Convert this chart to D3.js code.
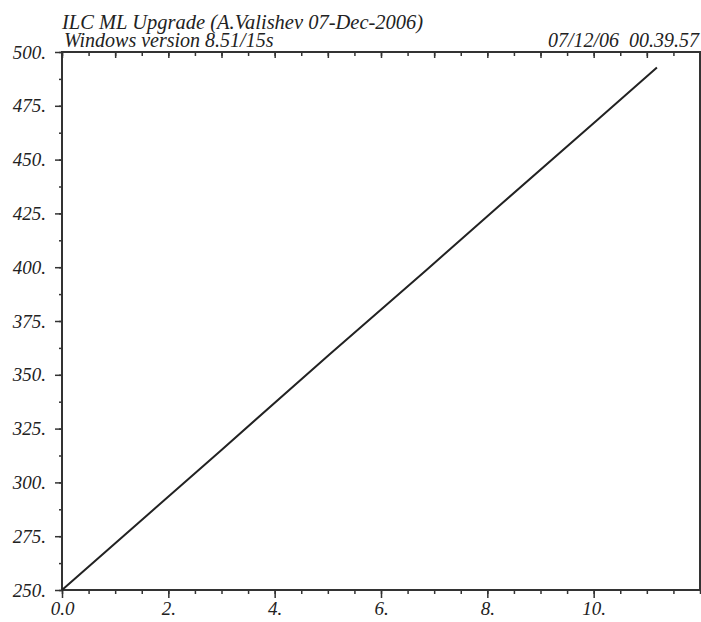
<!DOCTYPE html>
<html lang="en">
<head>
  <meta charset="utf-8">
  <title>ILC ML Upgrade</title>
  <script src="https://d3js.org/d3.v7.min.js"></script>
  <style>
    body { margin: 0; background: #fff; }
    text { font-family: "Liberation Serif", "DejaVu Serif", serif; font-style: italic; fill: #222; }
    .axis path.domain { display: none; }
    .axis line { stroke: #333; stroke-width: 1.5; }
  </style>
</head>
<body>
  <script>
    // data
    const lineX = [0, 1.65, 3.0, 5.03, 6.85, 8.23, 10.1, 11.19];
    const lineY = [250, 285.8, 315.1, 359.4, 398.6, 428.7, 469.1, 492.8];
    const xLabelTicks = [0, 2, 4, 6, 8, 10];
    const yLabelTicks = [250, 275, 300, 325, 350, 375, 400, 425, 450, 475, 500];
    const title1 = "ILC ML Upgrade (A.Valishev 07-Dec-2006)";
    const title2 = "Windows version 8.51/15s";
    const stamp = "07/12/06  00.39.57";

    const width = 701, height = 622;
    const margin = { top: 52, right: 0, bottom: 32, left: 62 };
    const innerWidth = width - margin.left - margin.right;
    const innerHeight = height - margin.top - margin.bottom;

    const svg = d3.select("body").append("svg")
      .attr("width", width).attr("height", height)
      .style("display", "block");
    const g = svg.append("g")
      .attr("transform", `translate(${margin.left},${margin.top})`);

    const x = d3.scaleLinear().domain([0, 12]).range([0, innerWidth - 1]);
    const y = d3.scaleLinear().domain([250, 500]).range([innerHeight, 0]);

    const halfSteps = d3.range(0, 12.01, 0.5);
    const ySteps = d3.range(250, 500.01, 12.5);

    // axis labels: italic times-like, same as the header
    function styleText(sel) {
      sel.attr("font-family", "Liberation Serif").attr("font-size", 19).attr("font-style", "italic");
      sel.selectAll("text")
        .style("font-family", "'Liberation Serif', serif")
        .style("font-style", "italic")
        .style("font-size", "19px")
        .attr("fill", "#222");
    }

    // minor ticks (bottom outside, top inside, left outside)
    g.append("g").attr("class", "axis")
      .attr("transform", `translate(0,${innerHeight})`)
      .call(d3.axisBottom(x).tickValues(halfSteps).tickSize(4).tickFormat(""));
    g.append("g").attr("class", "axis")
      .call(d3.axisBottom(x).tickValues(halfSteps).tickSize(4).tickFormat(""));
    g.append("g").attr("class", "axis")
      .call(d3.axisLeft(y).tickValues(ySteps).tickSize(3).tickFormat(""));

    // major labelled ticks
    g.append("g").attr("class", "axis")
      .attr("transform", `translate(0,${innerHeight})`)
      .call(d3.axisBottom(x).tickValues(xLabelTicks).tickSize(8).tickPadding(4)
        .tickFormat(d => d === 0 ? "0.0" : d + "."))
      .call(styleText);
    g.append("g").attr("class", "axis")
      .call(d3.axisBottom(x).tickValues(d3.range(0, 12.01, 1)).tickSize(6).tickFormat(""));
    g.append("g").attr("class", "axis")
      .call(d3.axisLeft(y).tickValues(yLabelTicks).tickSize(7).tickPadding(9)
        .tickFormat(d => d + "."))
      .call(styleText);

    // frame
    g.append("rect")
      .attr("x", x(0)).attr("y", y(500))
      .attr("width", x(12) - x(0)).attr("height", y(250) - y(500))
      .attr("fill", "none").attr("stroke", "#333").attr("stroke-width", 2);

    // the curve
    const pts = lineX.map((v, i) => [v, lineY[i]]);
    g.append("path")
      .datum(pts)
      .attr("fill", "none")
      .attr("stroke", "#222")
      .attr("stroke-width", 2)
      .attr("d", d3.line().x(d => x(d[0])).y(d => y(d[1])));

    // header texts
    svg.append("text").text(title1)
      .attr("x", 62).attr("y", 29).style("font-size", "20.5px");
    svg.append("text").text(title2)
      .attr("x", 64).attr("y", 47).style("font-size", "20px");
    svg.append("text").text(stamp)
      .attr("x", 699).attr("y", 47).attr("text-anchor", "end")
      .style("font-size", "20px").style("white-space", "pre");
  </script>
</body>
</html>
